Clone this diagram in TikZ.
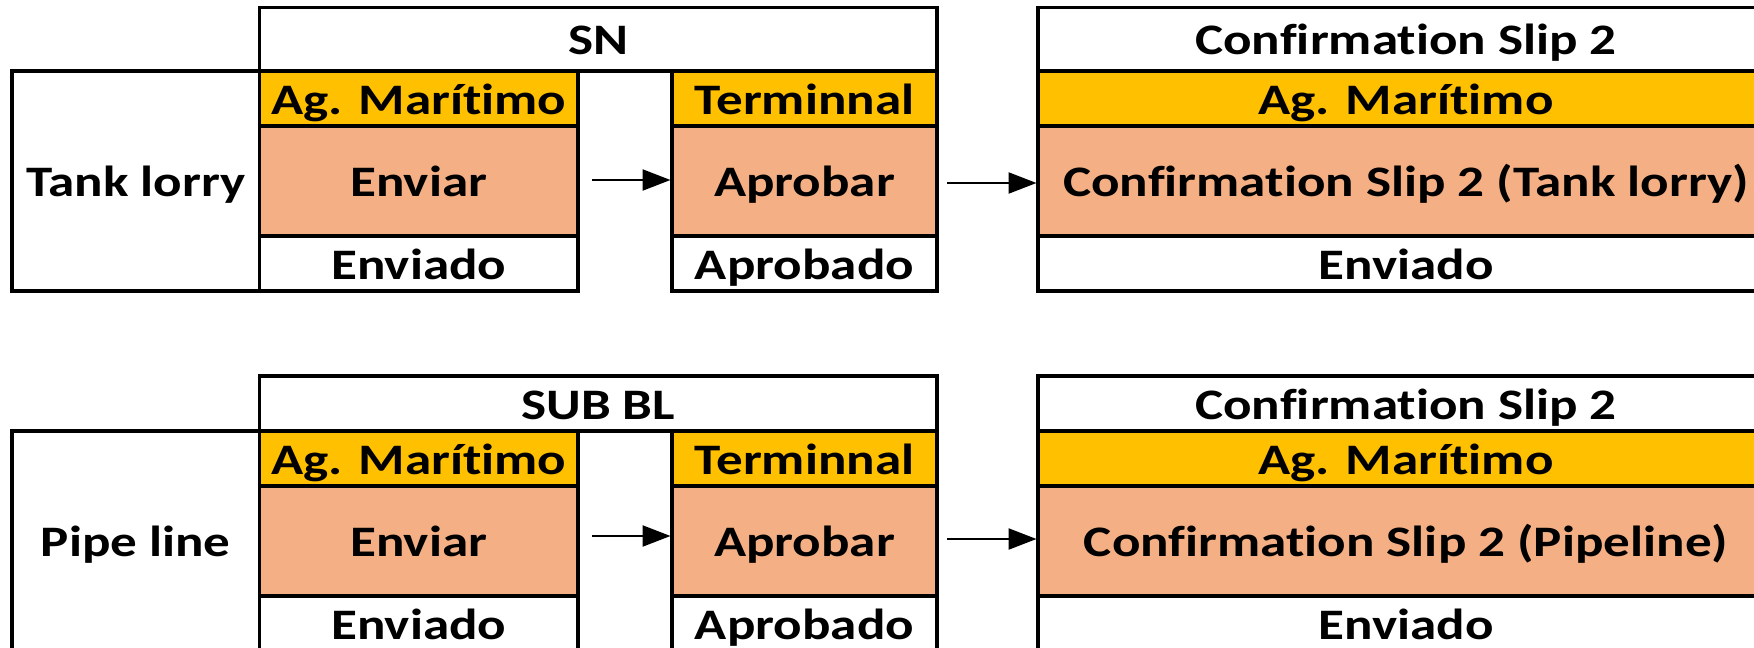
\documentclass[tikz,border=0pt]{standalone}
\usepackage{fontspec}
\setmainfont{Carlito}[FakeStretch=1.22, Ligatures=NoCommon]
\usetikzlibrary{arrows.meta}
\definecolor{cyellow}{HTML}{FFC000}
\definecolor{csalmon}{HTML}{F4B084}
\tikzset{
  cell/.style={draw=black, line width=3.6pt, inner sep=0pt, outer sep=0pt,
    anchor=north west, font=\fontsize{43.5pt}{50pt}\selectfont\bfseries,
    text height=31pt, text depth=0pt, align=center},
  ycell/.style={cell, fill=cyellow},
  scell/.style={cell, fill=csalmon},
  wcell/.style={cell, fill=white},
  arr/.style={line width=2.3pt, -{Triangle[length=28pt,width=21pt]}, shorten >=1.5pt},
}
\begin{document}
\begin{tikzpicture}[x=1pt, y=-1pt]
\useasboundingbox (0,0) rectangle (1754,648);
\clip (0,0) rectangle (1754,648);
\fill[white] (0,0) rectangle (1754,648);
\foreach \r/\dy/\hy/\hh/\lbl/\hdr/\conf/\ya/\yb in {
  1/0/7.3/63.7/Tank lorry/SN/Tank lorry/180/183,
  2/360/376/55/Pipe line/SUB BL/Pipeline/536/539}{
  % header boxes
  \node[wcell, minimum width=677.5pt, minimum height=\hh pt] (hdr\r) at (259.5,\hy) {\hdr};
  \node[wcell, minimum width=736pt, minimum height=\hh pt] (cH\r) at (1038,\hy) {Confirmation Slip 2};
  % label box
  \node[wcell, minimum width=247.5pt, minimum height=220pt] (lbl\r) at (12,71+\dy) {\lbl};
  % Ag. Maritimo column
  \node[ycell, minimum width=318.5pt, minimum height=55pt] (aY\r) at (259.5,71+\dy) {Ag. Marítimo};
  \node[scell, minimum width=318.5pt, minimum height=110pt] (aS\r) at (259.5,126+\dy) {Enviar};
  \node[wcell, minimum width=318.5pt, minimum height=55pt] (aW\r) at (259.5,236+\dy) {Enviado};
  % Terminnal column
  \node[ycell, minimum width=265pt, minimum height=55pt] (tY\r) at (672,71+\dy) {Terminnal};
  \node[scell, minimum width=265pt, minimum height=110pt] (tS\r) at (672,126+\dy) {Aprobar};
  \node[wcell, minimum width=265pt, minimum height=55pt] (tW\r) at (672,236+\dy) {Aprobado};
  % Confirmation column
  \node[ycell, minimum width=736pt, minimum height=55pt] (cY\r) at (1038,71+\dy) {Ag. Marítimo};
  \node[scell, minimum width=736pt, minimum height=110pt] (cS\r) at (1038,126+\dy) {Confirmation Slip 2 (\conf)};
  \node[wcell, minimum width=736pt, minimum height=55pt] (cW\r) at (1038,236+\dy) {Enviado};
  % arrows
  \coordinate (sa\r) at (592,\ya);
  \coordinate (sb\r) at (947,\yb);
  \draw[arr] (sa\r) -- (sa\r -| tS\r.west);
  \draw[arr] (sb\r) -- (sb\r -| cS\r.west);
}
\end{tikzpicture}
\end{document}
